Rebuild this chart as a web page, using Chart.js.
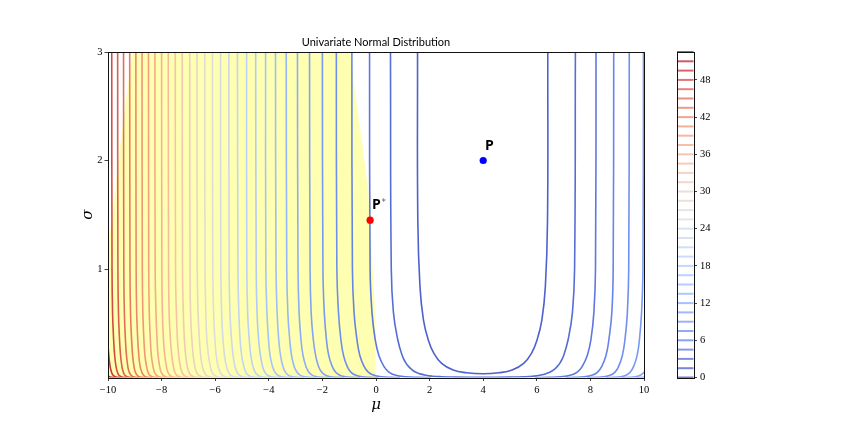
<!DOCTYPE html>
<html>
<head>
<meta charset="utf-8">
<script src="https://cdn.jsdelivr.net/npm/chart.js@4"></script>
<style>
html,body{margin:0;padding:0;background:#fff;width:864px;height:432px;overflow:hidden}
canvas{position:absolute;top:0}
#main{left:0}
#bar{left:660px}
</style>
</head>
<body>
<canvas id="main" width="864" height="432"></canvas>
<canvas id="bar" width="204" height="432"></canvas>
<script>
const titleText = 'Univariate Normal Distribution';
const xLabel = 'μ';
const yLabel = 'σ';
const xTicks = [-10,-8,-6,-4,-2,0,2,4,6,8,10];
const yTicks = [1,2,3];
const barTicks = [0,6,12,18,24,30,36,42,48];
const levels = [0,1.5,3,4.5,6,7.5,9,10.5,12,13.5,15,16.5,18,19.5,21,22.5,24,25.5,27,28.5,30,31.5,33,34.5,36,37.5,39,40.5,42,43.5,45,46.5,48,49.5,51,52.5];

// sigma values at which each contour was read
const sigmaSamples = [3,1,0.6,0.35,0.2,0.1,0.05,0.02,0.007,0.002,0];

// the innermost closed contour (level 1.5)
const innerSigma = [3,1.45,0.84,0.53,0.346,0.223,0.131,0.069,0.044,0.035,0.044,0.069,0.131,0.223,0.346,0.53,0.84,1.45,3];
const innerMu = [1.55,1.56,1.64,1.77,1.95,2.16,2.45,2.88,3.38,4,4.58,5.08,5.51,5.80,6.01,6.19,6.32,6.40,6.41];

// level 3 contour, U shaped, nearly touches the axis
const secondSigma = [3,1,0.6,0.35,0.2,0.14,0.1,0.07,0.05,0.035,0.02,0.012,0.007,0.004,0.002,0.004,0.007,0.012,0.02,0.035,0.05,0.07,0.1,0.14,0.2,0.35,0.6,1,3];
const secondMu = [0.54,0.57,0.65,0.81,0.98,1.10,1.22,1.35,1.47,1.63,1.86,2.10,2.45,2.90,4,5.06,5.51,5.86,6.11,6.34,6.50,6.63,6.76,6.88,7.00,7.17,7.33,7.41,7.44];

// left branches, levels 4.5 ... 52.5; mu read at each of sigmaSamples
const leftBranches = [
[-0.24,-0.22,-0.15,-0.03,0.11,0.30,0.48,0.74,1.10,1.55,2.05],
[-0.90,-0.88,-0.82,-0.71,-0.60,-0.44,-0.29,-0.07,0.21,0.54,0.90],
[-1.48,-1.46,-1.40,-1.31,-1.21,-1.07,-0.94,-0.75,-0.52,-0.24,0.10],
[-2.00,-1.98,-1.93,-1.85,-1.76,-1.63,-1.51,-1.35,-1.14,-0.90,-0.60],
[-2.48,-2.46,-2.42,-2.34,-2.25,-2.14,-2.03,-1.88,-1.69,-1.48,-1.18],
[-2.93,-2.91,-2.87,-2.80,-2.72,-2.61,-2.51,-2.37,-2.20,-2.00,-1.73],
[-3.35,-3.33,-3.29,-3.22,-3.15,-3.05,-2.95,-2.82,-2.66,-2.48,-2.23],
[-3.75,-3.73,-3.69,-3.63,-3.56,-3.47,-3.38,-3.26,-3.10,-2.93,-2.69],
[-4.12,-4.11,-4.07,-4.01,-3.95,-3.86,-3.77,-3.66,-3.51,-3.36,-3.13],
[-4.49,-4.47,-4.44,-4.38,-4.31,-4.23,-4.15,-4.04,-3.90,-3.76,-3.54],
[-4.83,-4.82,-4.79,-4.73,-4.67,-4.59,-4.51,-4.40,-4.27,-4.13,-3.93],
[-5.17,-5.15,-5.12,-5.07,-5.01,-4.93,-4.86,-4.76,-4.63,-4.50,-4.30],
[-5.49,-5.48,-5.45,-5.39,-5.33,-5.26,-5.19,-5.09,-4.97,-4.84,-4.65],
[-5.80,-5.79,-5.76,-5.71,-5.65,-5.58,-5.51,-5.42,-5.30,-5.17,-4.99],
[-6.10,-6.09,-6.06,-6.01,-5.96,-5.89,-5.82,-5.73,-5.62,-5.49,-5.32],
[-6.39,-6.38,-6.35,-6.31,-6.25,-6.18,-6.12,-6.03,-5.92,-5.80,-5.63],
[-6.68,-6.67,-6.64,-6.59,-6.54,-6.48,-6.41,-6.33,-6.22,-6.10,-5.94],
[-6.95,-6.94,-6.92,-6.87,-6.82,-6.76,-6.70,-6.61,-6.50,-6.39,-6.24],
[-7.23,-7.22,-7.19,-7.15,-7.10,-7.04,-6.98,-6.90,-6.80,-6.68,-6.53],
[-7.49,-7.48,-7.45,-7.41,-7.36,-7.30,-7.24,-7.16,-7.07,-6.96,-6.81],
[-7.75,-7.74,-7.72,-7.67,-7.62,-7.56,-7.51,-7.43,-7.33,-7.23,-7.08],
[-8.00,-7.99,-7.97,-7.93,-7.88,-7.82,-7.77,-7.69,-7.60,-7.49,-7.35],
[-8.25,-8.24,-8.21,-8.17,-8.13,-8.07,-8.02,-7.94,-7.85,-7.75,-7.61],
[-8.49,-8.48,-8.46,-8.42,-8.38,-8.32,-8.27,-8.19,-8.10,-8.00,-7.87],
[-8.73,-8.72,-8.70,-8.66,-8.62,-8.56,-8.51,-8.44,-8.35,-8.25,-8.12],
[-8.96,-8.95,-8.93,-8.89,-8.85,-8.80,-8.74,-8.67,-8.59,-8.49,-8.36],
[-9.19,-9.18,-9.16,-9.12,-9.08,-9.03,-8.98,-8.91,-8.83,-8.73,-8.60],
[-9.42,-9.41,-9.39,-9.35,-9.31,-9.26,-9.21,-9.14,-9.06,-8.97,-8.84],
[-9.64,-9.63,-9.61,-9.57,-9.53,-9.48,-9.43,-9.37,-9.28,-9.19,-9.07],
[-9.86,-9.85,-9.83,-9.79,-9.75,-9.70,-9.65,-9.59,-9.51,-9.42,-9.30],
[-10.07,-10.06,-10.04,-10.01,-9.97,-9.92,-9.87,-9.81,-9.73,-9.64,-9.52],
[-10.28,-10.28,-10.26,-10.22,-10.18,-10.13,-10.09,-10.02,-9.95,-9.86,-9.74],
[-10.49,-10.48,-10.46,-10.43,-10.39,-10.34,-10.30,-10.24,-10.16,-10.08,-9.96]
];

// right branches, levels 4.5 ... 12; mu read at each of sigmaSamples
const rightBranches = [
[8.21,8.19,8.13,8.02,7.88,7.69,7.51,7.25,6.89,6.44,5.94],
[8.87,8.85,8.80,8.69,8.58,8.42,8.27,8.05,7.77,7.44,7.08],
[9.45,9.43,9.38,9.29,9.19,9.05,8.92,8.73,8.50,8.22,7.88],
[9.98,9.96,9.91,9.83,9.74,9.61,9.49,9.33,9.12,8.88,8.58],
[10.46,10.43,10.40,10.32,10.23,10.12,10.01,9.86,9.67,9.46,9.16],
[10.91,10.89,10.85,10.78,10.70,10.59,10.49,10.35,10.18,9.98,9.71]
];

// filled yellow region boundary
const regionMu = [-10,-10,-9.83,-9.55,-9.4,-9.09,-0.97,-0.85,-0.53,-0.29,-0.16,-0.03,-0.01,-10];
const regionSigma = [0,1.2,1.5,2.13,2.42,3,3,2.74,2.18,1.72,1.19,0.58,0,0];

// the two marked points
const pointNames = ['P','P'];
const pointSuffix = ['','*'];
const pointMu = [4,-0.22];
const pointSigma = [2,1.45];
const pointColors = ['#0000ff','#ff0000'];
const labelMu = [4.07,-0.15];
const labelSigma = [2.097,1.553];

const coolwarm = [[59,76,192],[98,130,234],[141,176,254],[184,208,249],[221,220,220],[245,193,169],[244,154,123],[220,93,74],[180,4,38]];
function levelColor(level,alpha){
  const t = level/levels[levels.length-1]*(coolwarm.length-1);
  const i = Math.min(Math.floor(t),coolwarm.length-2), f = t-i;
  const c = coolwarm[i].map((v,n)=>Math.round(v+(coolwarm[i+1][n]-v)*f));
  return `rgba(${c[0]},${c[1]},${c[2]},${alpha})`;
}
const pairUp = (xs,ys)=>xs.map((x,i)=>({x,y:ys[i]}));
const contour = (level,pts)=>({
  data:pts,borderColor:levelColor(level,0.95),borderWidth:1.6,pointRadius:0,
  tension:0.45,fill:false,order:2,showLine:true
});

const datasets = [];
datasets.push({data:pairUp(regionMu,regionSigma),borderWidth:0,borderColor:'rgba(0,0,0,0)',
  backgroundColor:'#ffffb2',fill:'shape',pointRadius:0,tension:0,order:3,showLine:true});
datasets.push(contour(levels[1],pairUp(innerMu,innerSigma)));
datasets.push(contour(levels[2],pairUp(secondMu,secondSigma)));
leftBranches.forEach((row,i)=>datasets.push(contour(levels[i+3],pairUp(row,sigmaSamples))));
rightBranches.forEach((row,i)=>datasets.push(contour(levels[i+3],pairUp(row,sigmaSamples))));
datasets.push({data:pairUp(pointMu,pointSigma),pointBackgroundColor:pointColors,pointBorderColor:pointColors,
  pointRadius:3.6,pointBorderWidth:0,showLine:false,order:0});

const tickFont = {family:'"Liberation Serif"',size:10.5};
const axisInk = '#111';

function strokeFrame(ctx,a){
  const l=Math.round(a.left)+0.5,t=Math.round(a.top)+0.5,r=Math.round(a.right)+0.5,b=Math.round(a.bottom)+0.5;
  ctx.strokeStyle = axisInk; ctx.lineWidth = 1;
  ctx.strokeRect(l,t,r-l,b-t);
}

const frameAndLabels = {
  id:'frameAndLabels',
  afterDatasetsDraw(chart){
    const {ctx,chartArea:a,scales:{x,y}} = chart;
    ctx.save();
    strokeFrame(ctx,a);
    ctx.textBaseline = 'alphabetic';
    pointNames.forEach((name,i)=>{
      const px = x.getPixelForValue(labelMu[i]), py = y.getPixelForValue(labelSigma[i]);
      ctx.fillStyle = '#000';
      ctx.font = 'bold 14px "Open Sans"';
      ctx.fillText(name,px,py);
      if(pointSuffix[i]){
        const w = ctx.measureText(name).width;
        ctx.fillStyle = '#555';
        ctx.font = '8px "DejaVu Sans"';
        ctx.fillText(pointSuffix[i],px+w+1,py-4);
      }
    });
    ctx.restore();
  }
};

new Chart(document.getElementById('main'),{
  type:'scatter',
  data:{datasets},
  plugins:[frameAndLabels],
  options:{
    responsive:false,animation:false,devicePixelRatio:1,
    layout:{padding:{left:79,right:220,top:0,bottom:18}},
    plugins:{
      legend:{display:false},tooltip:{enabled:false},
      title:{display:true,text:titleText,fullSize:false,color:'#000',
        font:{family:'Lato',size:11,weight:'normal',lineHeight:1.2},
        padding:{top:36,bottom:2.8}}
    },
    scales:{
      x:{type:'linear',min:-10,max:10,
        afterBuildTicks(s){s.ticks = xTicks.map(value=>({value}));},
        afterFit(s){s.height = 36.5;},
        grid:{display:true,drawOnChartArea:false,drawTicks:true,tickLength:3.5,color:axisInk,lineWidth:0.8},
        border:{display:false},
        ticks:{font:tickFont,color:'#000',maxRotation:0,padding:3,autoSkip:false,
          callback:v=>String(v).replace('-','\u2212')},
        title:{display:true,text:xLabel,color:'#000',padding:0,
          font:{family:'"DejaVu Serif"',style:'italic',size:15}}
      },
      y:{type:'linear',min:0,max:3,
        afterBuildTicks(s){s.ticks = yTicks.map(value=>({value}));},
        afterFit(s){s.width = 29;},
        grid:{display:true,drawOnChartArea:false,drawTicks:true,tickLength:3.5,color:axisInk,lineWidth:0.8},
        border:{display:false},
        ticks:{font:tickFont,color:'#000',padding:2,autoSkip:false},
        title:{display:true,text:yLabel,color:'#000',padding:0,
          font:{family:'"DejaVu Serif"',style:'italic',size:15}}
      }
    }
  }
});

const barFrame = {
  id:'barFrame',
  afterDatasetsDraw(chart){
    const {ctx,chartArea:a} = chart;
    ctx.save();strokeFrame(ctx,a);ctx.restore();
  }
};
new Chart(document.getElementById('bar'),{
  type:'scatter',
  data:{datasets:levels.map(level=>({
    data:[{x:0,y:level},{x:1,y:level}],showLine:true,pointRadius:0,
    borderColor:levelColor(level,0.72),borderWidth:2,clip:false
  }))},
  plugins:[barFrame],
  options:{
    responsive:false,animation:false,devicePixelRatio:1,
    layout:{padding:{left:17,right:0,top:52,bottom:54.5}},
    plugins:{legend:{display:false},tooltip:{enabled:false}},
    scales:{
      x:{type:'linear',min:0,max:1,display:false},
      y:{type:'linear',position:'right',min:0,max:52.5,
        afterBuildTicks(s){s.ticks = barTicks.map(value=>({value}));},
        afterFit(s){s.width = 170.5;},
        grid:{display:true,drawOnChartArea:false,drawTicks:true,tickLength:3.5,color:axisInk,lineWidth:0.8},
        border:{display:false},
        ticks:{font:tickFont,color:'#000',padding:3,autoSkip:false}
      }
    }
  }
});
</script>
</body>
</html>
